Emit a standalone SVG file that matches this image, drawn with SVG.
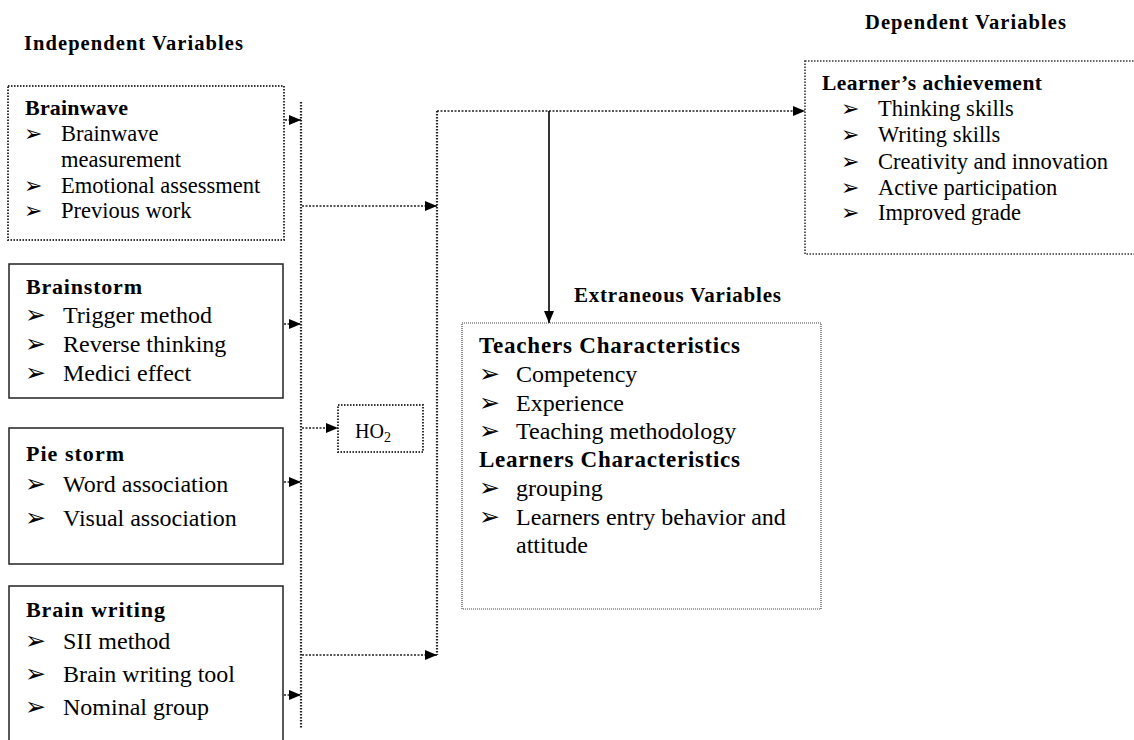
<svg xmlns="http://www.w3.org/2000/svg" width="1134" height="740" viewBox="0 0 1134 740" font-family="'Liberation Serif', 'Times New Roman', serif">
<defs>
<marker id="ah" viewBox="0 0 12 10" refX="12" refY="5" markerWidth="12" markerHeight="10" markerUnits="userSpaceOnUse" orient="auto">
<path d="M0,0 L12,5 L0,10 Z" fill="#000"/>
</marker>
</defs>
<style>
text{font-family:"Liberation Serif","Times New Roman",serif;fill:#000;}
.h{font-weight:bold;}
.t{font-size:24px;}
.s{font-size:22.5px;}
.b{font-family:"DejaVu Sans",sans-serif;font-size:25px;}
.bs{font-family:"DejaVu Sans",sans-serif;font-size:22px;}
.box{fill:#fff;stroke:#222;stroke-width:1.5;}
.dbox{fill:#fff;stroke:#333;stroke-width:2;stroke-dasharray:1.5 1.5;}
.tbox{fill:#fff;stroke:#444;stroke-width:1.2;stroke-dasharray:1 1;}
.bus{fill:none;stroke:#222;stroke-width:2.2;stroke-dasharray:1.6 1.4;}
.con{fill:none;stroke:#222;stroke-width:1.6;stroke-dasharray:2 1.5;}
.sol{fill:none;stroke:#000;stroke-width:1.6;}
</style>
<rect width="1134" height="740" fill="#fff"/>

<text class="h" x="24" y="50" font-size="20.5" textLength="219" lengthAdjust="spacing">Independent Variables</text>
<text class="h" x="865" y="29" font-size="20.5" textLength="201" lengthAdjust="spacing">Dependent Variables</text>
<text class="h" x="574" y="302" font-size="21" textLength="207" lengthAdjust="spacing">Extraneous Variables</text>

<g id="connectors">
<line class="bus" x1="301" y1="102" x2="301" y2="728"/>
<line class="bus" x1="437" y1="111" x2="437" y2="655"/>
<line class="con" x1="285" y1="120" x2="301" y2="120" marker-end="url(#ah)"/>
<line class="con" x1="284" y1="324" x2="301" y2="324" marker-end="url(#ah)"/>
<line class="con" x1="284" y1="482" x2="301" y2="482" marker-end="url(#ah)"/>
<line class="con" x1="284" y1="695" x2="301" y2="695" marker-end="url(#ah)"/>
<line class="con" x1="302" y1="428" x2="338" y2="428" marker-end="url(#ah)"/>
<line class="con" x1="302" y1="206" x2="437" y2="206" marker-end="url(#ah)"/>
<line class="con" x1="302" y1="655" x2="437" y2="655" marker-end="url(#ah)"/>
<line class="con" x1="437" y1="111" x2="805" y2="111" marker-end="url(#ah)"/>
<line class="sol" x1="549" y1="111" x2="549" y2="323" marker-end="url(#ah)"/>
</g>

<g id="brainwave">
<rect class="dbox" x="8" y="86" width="276" height="154"/>
<text class="h" x="25" y="115" font-size="22" textLength="103" lengthAdjust="spacing">Brainwave</text>
<text class="bs" x="24" y="141">➢</text>
<text class="bs" x="24" y="193">➢</text>
<text class="bs" x="24" y="218">➢</text>
<text class="s" x="61" y="141">Brainwave</text>
<text class="s" x="61" y="167">measurement</text>
<text class="s" x="61" y="193">Emotional assessment</text>
<text class="s" x="61" y="218">Previous work</text>
</g>

<g id="brainstorm">
<rect class="box" x="9" y="264" width="274" height="134"/>
<text class="h" x="26" y="294" font-size="22" textLength="116" lengthAdjust="spacing">Brainstorm</text>
<text class="b" x="25" y="323">➢</text>
<text class="b" x="25" y="352">➢</text>
<text class="b" x="25" y="381">➢</text>
<text class="t" x="63" y="323">Trigger method</text>
<text class="t" x="63" y="352">Reverse thinking</text>
<text class="t" x="63" y="381">Medici effect</text>
</g>

<g id="piestorm">
<rect class="box" x="9" y="428" width="274" height="136"/>
<text class="h" x="26" y="461" font-size="22" textLength="98" lengthAdjust="spacing">Pie storm</text>
<text class="b" x="25" y="492">➢</text>
<text class="b" x="25" y="526">➢</text>
<text class="t" x="63" y="492">Word association</text>
<text class="t" x="63" y="526">Visual association</text>
</g>

<g id="brainwriting">
<rect class="box" x="9" y="586" width="274" height="170"/>
<text class="h" x="26" y="617" font-size="22" textLength="139" lengthAdjust="spacing">Brain writing</text>
<text class="b" x="25" y="649">➢</text>
<text class="b" x="25" y="682">➢</text>
<text class="b" x="25" y="715">➢</text>
<text class="t" x="63" y="649">SII method</text>
<text class="t" x="63" y="682">Brain writing tool</text>
<text class="t" x="63" y="715">Nominal group</text>
</g>

<g id="ho2">
<rect class="dbox" x="338" y="405" width="85" height="47"/>
<text x="355" y="438" font-size="20">HO<tspan font-size="14" dy="4">2</tspan></text>
</g>

<g id="extraneous">
<rect class="tbox" x="462" y="323" width="359" height="286"/>
<text class="h" x="479" y="353" font-size="23" textLength="261" lengthAdjust="spacing">Teachers Characteristics</text>
<text class="b" x="479" y="382">➢</text>
<text class="b" x="479" y="411">➢</text>
<text class="b" x="479" y="439">➢</text>
<text class="t" x="516" y="382">Competency</text>
<text class="t" x="516" y="411">Experience</text>
<text class="t" x="516" y="439">Teaching methodology</text>
<text class="h" x="479" y="467" font-size="23" textLength="261" lengthAdjust="spacing">Learners Characteristics</text>
<text class="b" x="479" y="496">➢</text>
<text class="b" x="479" y="525">➢</text>
<text class="t" x="516" y="496">grouping</text>
<text class="t" x="516" y="525">Learners entry behavior and</text>
<text class="t" x="516" y="553">attitude</text>
</g>

<g id="dependent">
<rect class="dbox" x="805" y="61" width="340" height="193" style="stroke-width:1.6"/>
<text class="h" x="822" y="90" font-size="21.5" textLength="220" lengthAdjust="spacing">Learner’s achievement</text>
<text class="bs" x="841" y="116">➢</text>
<text class="bs" x="841" y="142">➢</text>
<text class="bs" x="841" y="169">➢</text>
<text class="bs" x="841" y="195">➢</text>
<text class="bs" x="841" y="220">➢</text>
<text class="s" x="878" y="116">Thinking skills</text>
<text class="s" x="878" y="142">Writing skills</text>
<text class="s" x="878" y="169">Creativity and innovation</text>
<text class="s" x="878" y="195">Active participation</text>
<text class="s" x="878" y="220">Improved grade</text>
</g>
</svg>
